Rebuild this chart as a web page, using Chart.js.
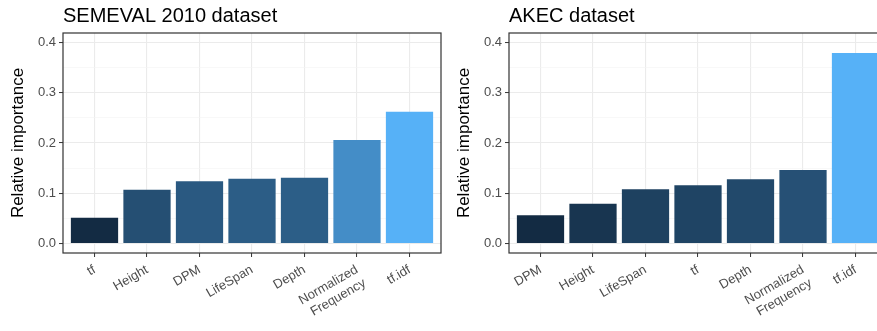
<!DOCTYPE html>
<html>
<head>
<meta charset="utf-8">
<script src="https://cdn.jsdelivr.net/npm/chart.js@4/dist/chart.umd.min.js"></script>
<style>
  body { margin: 0; width: 877px; height: 331px; overflow: hidden; background: #fff; position: relative; }
  .panel { position: absolute; top: 0; width: 447px; height: 331px; }
</style>
</head>
<body>
<div class="panel" style="left:0"><canvas id="semeval"></canvas></div>
<div class="panel" style="left:446px"><canvas id="akec"></canvas></div>
<script>
// values
const semevalLabels = ['tf', 'Height', 'DPM', 'LifeSpan', 'Depth', ['Normalized', 'Frequency'], 'tf.idf'];
const semevalValues = [0.051, 0.107, 0.124, 0.129, 0.131, 0.206, 0.262];

const akecLabels = ['DPM', 'Height', 'LifeSpan', 'tf', 'Depth', ['Normalized', 'Frequency'], 'tf.idf'];
const akecValues = [0.056, 0.079, 0.108, 0.116, 0.128, 0.146, 0.379];

const yTicks = [0, 0.05, 0.1, 0.15, 0.2, 0.25, 0.3, 0.35, 0.4];

const FONT = '"Liberation Sans", Arial, Helvetica, sans-serif';
Chart.defaults.font.family = FONT;
Chart.defaults.animation = false;

// ggplot-like continuous fill: dark navy -> light blue
const lowColor = [0x13, 0x2B, 0x43];
const highColor = [0x56, 0xB1, 0xF7];
function fillFor(values) {
    const min = Math.min(...values), max = Math.max(...values);
    return values.map(v => {
        const t = (v - min) / (max - min);
        const c = lowColor.map((lo, i) => Math.round(lo + (highColor[i] - lo) * t));
        return `rgb(${c[0]},${c[1]},${c[2]})`;
    });
}

const isMajor = v => Math.abs(v * 10 - Math.round(v * 10)) < 1e-6;

const framePlugin = {
    id: 'frame',
    afterDraw(chart) {
        const { ctx, chartArea: a } = chart;
        ctx.save();
        ctx.strokeStyle = '#333333';
        ctx.lineWidth = 1.2;
        ctx.strokeRect(a.left, a.top, a.right - a.left, a.bottom - a.top);
        ctx.restore();
    }
};

function makeChart(id, title, labels, values) {
    new Chart(document.getElementById(id), {
        type: 'bar',
        data: {
            datasets: [{
                data: values.map((v, i) => ({ x: i + 1, y: v })),
                backgroundColor: fillFor(values),
                categoryPercentage: 1,
                barPercentage: 0.9
            }]
        },
        options: {
            responsive: true,
            maintainAspectRatio: false,
            layout: { padding: { left: 0, right: 6, top: 0, bottom: 0 } },
            plugins: {
                legend: { display: false },
                tooltip: { enabled: false },
                title: {
                    display: true,
                    text: title,
                    align: 'start',
                    fullSize: false,
                    color: '#000',
                    font: { size: 20, weight: 'normal' },
                    padding: { top: 4, bottom: 5 }
                }
            },
            scales: {
                x: {
                    type: 'linear',
                    min: 0.4,
                    max: 7.6,
                    offset: false,
                    afterBuildTicks: scale => { scale.ticks = labels.map((_, i) => ({ value: i + 1 })); },
                    afterFit: scale => { scale.height = 78; },
                    border: { display: false },
                    grid: { offset: false, color: '#ebebeb', lineWidth: 1.1, tickColor: '#333333', tickLength: 4, tickWidth: 1 },
                    ticks: {
                        autoSkip: false,
                        minRotation: 30,
                        maxRotation: 30,
                        color: '#4d4d4d',
                        font: { size: 13 },
                        padding: 5,
                        callback: v => labels[v - 1]
                    }
                },
                y: {
                    min: -0.019,
                    max: 0.419,
                    afterBuildTicks: scale => { scale.ticks = yTicks.map(v => ({ value: v })); },
                    afterFit: scale => { scale.width = 63; },
                    border: { display: false },
                    grid: {
                        color: ctx => isMajor(ctx.tick.value) ? '#ebebeb' : '#f4f4f4',
                        lineWidth: ctx => isMajor(ctx.tick.value) ? 1.1 : 0.6,
                        tickColor: ctx => isMajor(ctx.tick.value) ? '#333333' : 'rgba(0,0,0,0)',
                        tickLength: 4,
                        tickWidth: 1
                    },
                    ticks: {
                        autoSkip: false,
                        color: '#4d4d4d',
                        font: { size: 13 },
                        padding: 3,
                        callback: v => isMajor(v) ? v.toFixed(1) : ''
                    },
                    title: {
                        display: true,
                        text: 'Relative importance',
                        color: '#000',
                        font: { size: 17 },
                        padding: { top: 8, bottom: 0 }
                    }
                }
            }
        },
        plugins: [framePlugin]
    });
}

makeChart('semeval', 'SEMEVAL 2010 dataset', semevalLabels, semevalValues);
makeChart('akec', 'AKEC dataset', akecLabels, akecValues);
</script>
</body>
</html>
